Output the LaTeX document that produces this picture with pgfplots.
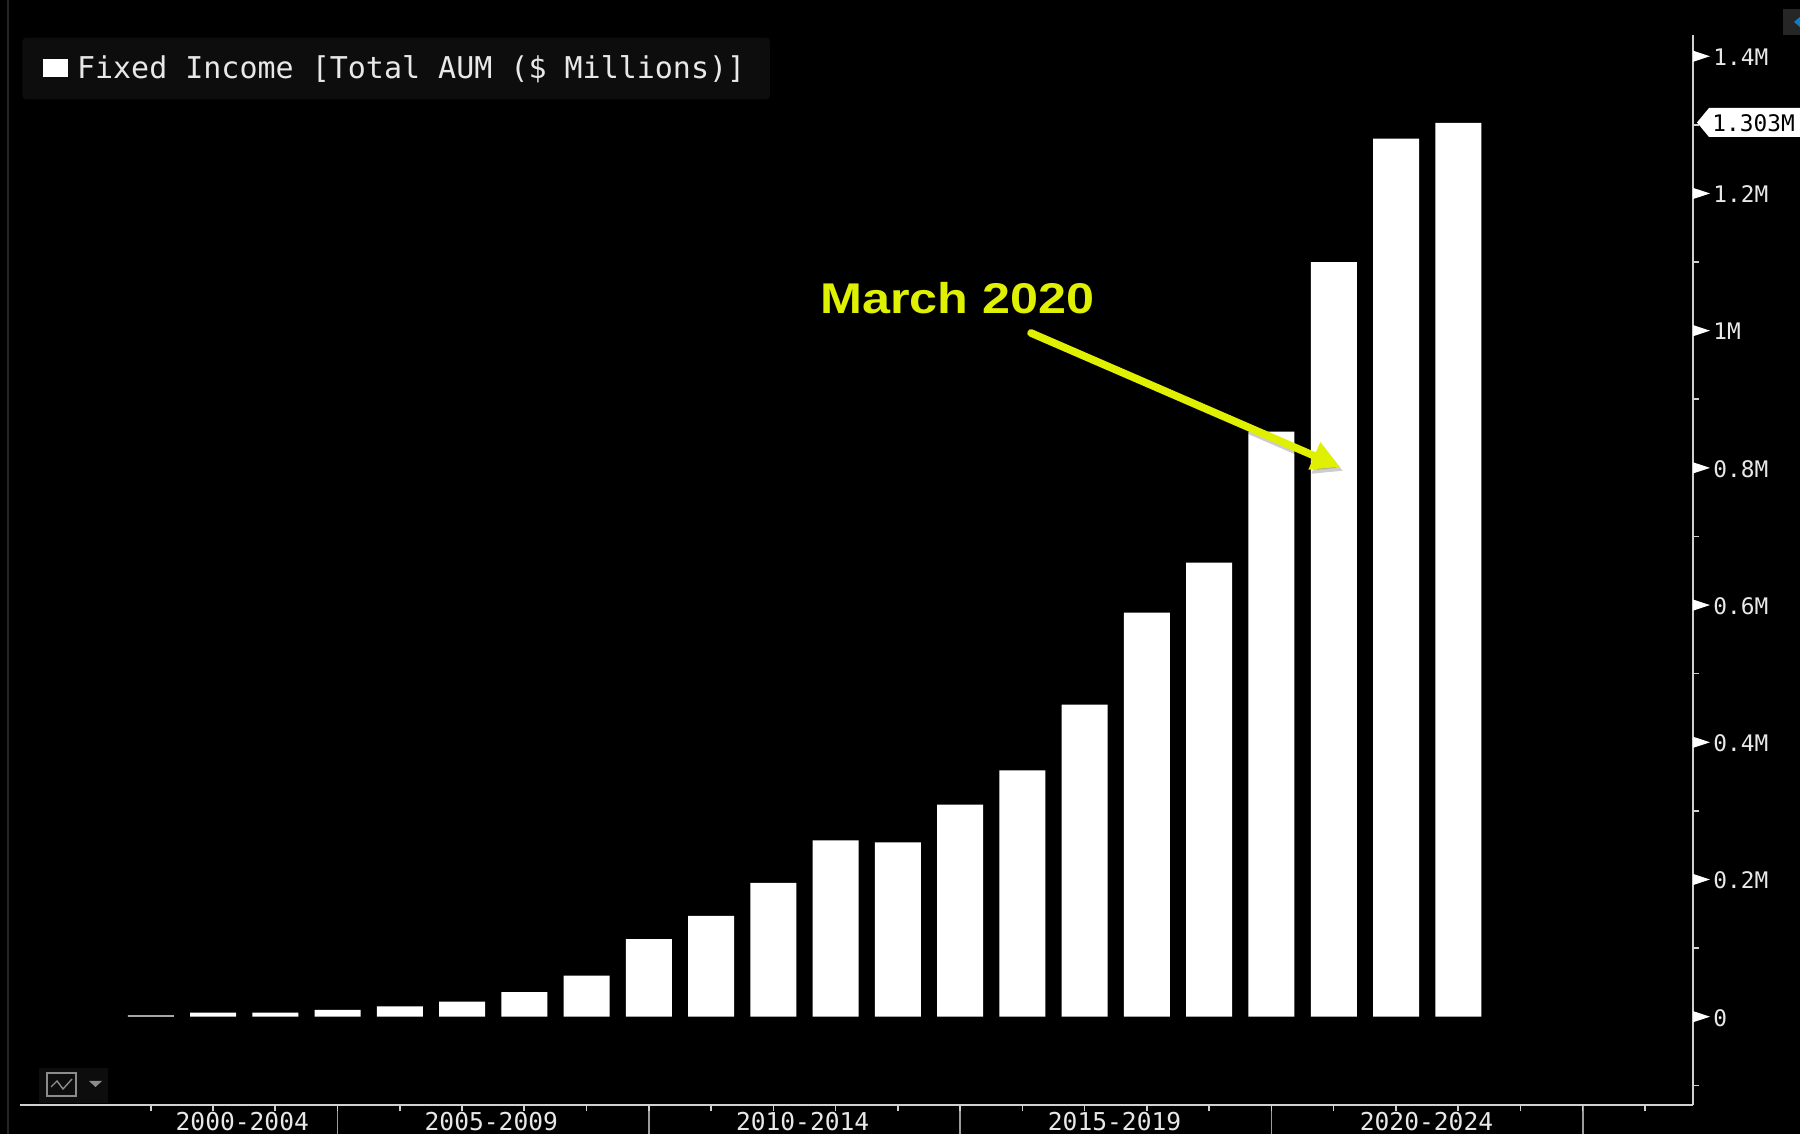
\documentclass[border=0pt]{standalone}
\usepackage{fontspec}
\setmainfont{DejaVu Sans Mono}
\newfontfamily\calloutfont[FakeStretch=1.17]{Liberation Sans Bold}
\usepackage{pgfplots}
\pgfplotsset{compat=1.18}
\usetikzlibrary{arrows.meta}
\definecolor{axisgrey}{HTML}{D0D0D0}
\definecolor{labelgrey}{HTML}{E8E8E8}
\definecolor{panel}{HTML}{0D0D0D}
\definecolor{callout}{HTML}{DFF000}
\pgfdeclareplotmark{pointer}{%
  \pgfpathmoveto{\pgfpoint{0pt}{2.8pt}}%
  \pgfpathlineto{\pgfpoint{8.5pt}{0pt}}%
  \pgfpathlineto{\pgfpoint{0pt}{-2.8pt}}%
  \pgfpathclose\pgfusepathqfill}
\begin{document}
\begin{tikzpicture}
% page is 1800x1134 px, 1 px = 0.5pt, axis corner sits at px (20,1105)
\path[use as bounding box,fill=black] (-10pt,-14.5pt) rectangle (890pt,552.5pt);
\begin{axis}[
    scale only axis,
    width=836.5pt,
    height=535pt,
    xmin=1999.9, xmax=2026.77,
    ymin=-0.1287, ymax=1.431,
    axis x line*=bottom,
    axis y line*=right,
    axis line style={axisgrey,line width=1pt},
    clip mode=individual,
    major tick length=3.2pt,
    minor tick length=14.5pt,
    tick style={axisgrey,line width=0.8pt},
    tick align=outside,
    xtick={2002,...,2026},
    xticklabels={},
    minor xtick={2005,2010,2015,2020,2025},
    minor x tick style={axisgrey!75!black,line width=0.8pt},
    extra x ticks={2003.47,2007.47,2012.47,2017.48,2022.49},
    extra x tick labels={2000-2004,2005-2009,2010-2014,2015-2019,2020-2024},
    extra x tick style={major tick length=0pt,tick style={draw=none}},
    ytick={-0.1,0,0.1,0.2,0.3,0.4,0.5,0.6,0.7,0.8,0.9,1,1.1,1.2,1.3,1.4},
    yticklabels={,0,,0.2M,,0.4M,,0.6M,,0.8M,,1M,,1.2M,,1.4M},
    yticklabel pos=right,
    x tick label style={font=\fontsize{12.3}{14}\selectfont,text=labelgrey},
    y tick label style={font=\fontsize{11.4}{13}\selectfont,text=labelgrey,anchor=west,xshift=3.5pt,yshift=-0.5pt},
    legend style={
      at={(0.0012,0.998)},anchor=north west,
      fill=panel,draw=none,rounded corners=2pt,
      text=labelgrey,font=\fontsize{15}{18}\selectfont,
      inner xsep=10.3pt,inner ysep=7pt},
    legend image code/.code={
      \fill[panel,sharp corners] (0pt,-4.5pt) rectangle (15pt,4.5pt);
      \fill[white,sharp corners] (0pt,-4.5pt) rectangle (12.5pt,4.5pt);},
]
\addplot[ybar,bar width=23pt,fill=white,draw=none] coordinates {
  (2002,0.002) (2003,0.006) (2004,0.006) (2005,0.010) (2006,0.015) (2007,0.022)
  (2008,0.036) (2009,0.060) (2010,0.113) (2011,0.147) (2012,0.195) (2013,0.257)
  (2014,0.254) (2015,0.309) (2016,0.359) (2017,0.455) (2018,0.589) (2019,0.662)
  (2020,0.853) (2021,1.100) (2022,1.280) (2023,1.303)};
\addlegendentry{Fixed Income [Total AUM (\$ Millions)]}
\addplot[only marks,mark=pointer,white,forget plot] coordinates {
  (2026.77,0) (2026.77,0.2) (2026.77,0.4) (2026.77,0.6)
  (2026.77,0.8) (2026.77,1) (2026.77,1.2) (2026.77,1.4)};
\end{axis}
\begin{scope}[x=0.5pt,y=-0.5pt,shift={(-20,-1105)}]
  % left edge, corner button, chart icon
  \draw[color=black!85!white,line width=0.8pt] (8,0) -- (8,1134);
  \fill[color=black!85!white] (1783,9) rectangle (1800,35);
  \fill[color=cyan!60!blue] (1794,22) -- (1800,17) -- (1800,27) -- cycle;
  \fill[panel] (39,1068) rectangle (108,1103);
  \draw[color=black!45!white,line width=0.7pt] (47,1073) rectangle (76,1096);
  \draw[color=black!45!white,line width=0.7pt] (51,1087) -- (57,1081) -- (63,1089) -- (72,1079);
  \fill[color=black!45!white] (89,1081) -- (102,1081) -- (95.5,1087) -- cycle;
  % last value tag
  \fill[white] (1697,122.5) -- (1709,108) -- (1800,108) -- (1800,137) -- (1709,137) -- cycle;
  \node[anchor=west,inner sep=0pt,text=black,font=\fontsize{11.4}{13}\selectfont] at (1712,123) {1.303M};
  % callout
  \draw[black,opacity=0.2,line width=3.8pt,-{Triangle[length=14pt,width=14pt]}] (1034,337) -- (1343,471);
  \draw[callout,line width=3.8pt,line cap=round,-{Triangle[length=14pt,width=14pt]}] (1031,333) -- (1340,467);
  \node[anchor=west,inner sep=0pt,text=callout,font=\calloutfont\fontsize{21.5}{26}\selectfont] at (820,298) {March 2020};
\end{scope}
\end{tikzpicture}
\end{document}
